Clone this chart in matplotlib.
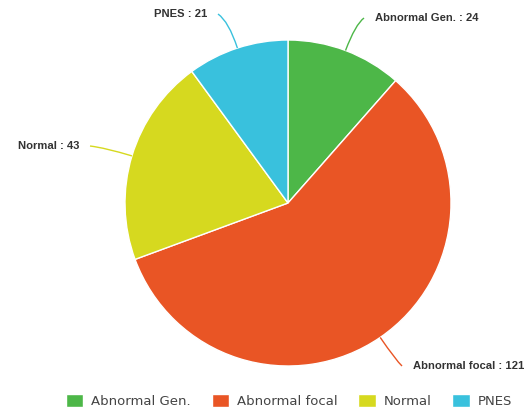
import numpy as np
import matplotlib.pyplot as plt
from matplotlib.path import Path
from matplotlib.patches import PathPatch

categories = ['Abnormal Gen.', 'Abnormal focal', 'Normal', 'PNES']
counts = [24, 121, 43, 21]
colors = ['#4db748', '#e95525', '#d6d91f', '#39c1dd']

W, H = 530, 418
cx, cy, rad = 288, H - 203, 163

# label end points (image px, y down) and alignment
label_pos = [(364, 18, 'left'), (402, 366, 'left'), (90, 146, 'right'), (218, 14, 'right')]

fig = plt.figure(figsize=(W / 100, H / 100), dpi=100)
ax = fig.add_axes([0, 0, 1, 1])
ax.set_xlim(0, W)
ax.set_ylim(0, H)
ax.set_aspect('equal')
ax.axis('off')

wedges, _ = ax.pie(counts, colors=colors, startangle=90, counterclock=False,
                   center=(cx, cy), radius=rad,
                   wedgeprops=dict(edgecolor='white', linewidth=1))
ax.set_xlim(0, W)
ax.set_ylim(0, H)

total = float(sum(counts))
start = 0.0
for i, c in enumerate(counts):
    span = c / total * 360
    mid = start + span / 2
    start += span
    th = np.deg2rad(90 - mid)
    ux, uy = np.cos(th), np.sin(th)
    p0 = (cx + rad * ux, cy + rad * uy)
    lx, ly, ha = label_pos[i]
    p2 = (lx, H - ly)
    p1 = (cx + (rad + 28) * ux, cy + (rad + 28) * uy)
    path = Path([p0, p1, p2], [Path.MOVETO, Path.CURVE3, Path.CURVE3])
    ax.add_patch(PathPatch(path, fill=False, edgecolor=colors[i], lw=1))
    tx = lx + 11 if ha == 'left' else lx - 11
    ax.text(tx, H - ly, '%s : %d' % (categories[i], c), ha=ha, va='center',
            fontsize=8.1, fontweight='bold', color='#333333',
            family='Liberation Sans', clip_on=False)

leg = fig.legend(wedges, categories, loc='lower center', ncol=4,
                 bbox_to_anchor=(0.545, -0.005), frameon=False, fontsize=9.5,
                 handlelength=1.3, handleheight=1.1, handletextpad=0.6,
                 columnspacing=1.6)
for t in leg.get_texts():
    t.set_color('#444444')

fig.savefig('out.png', dpi=100)
